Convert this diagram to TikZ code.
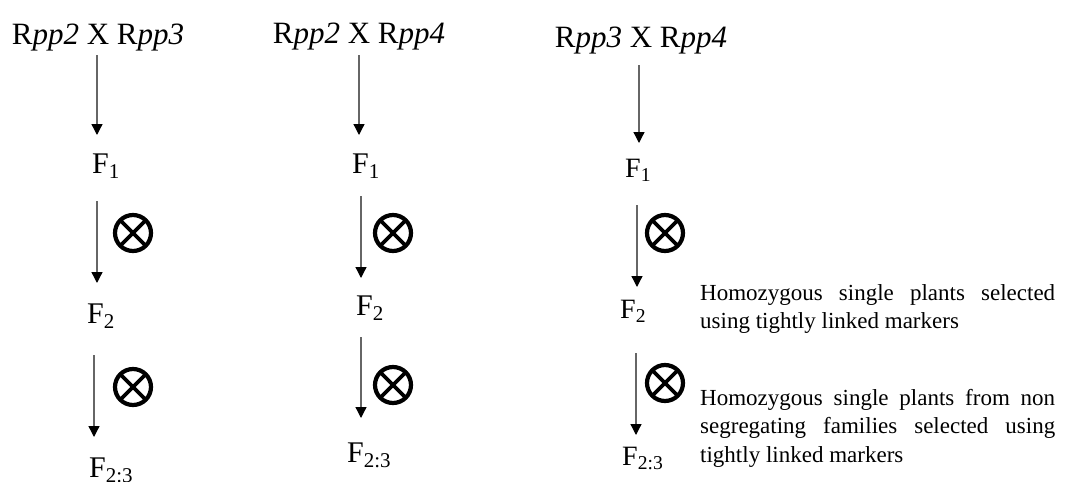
\documentclass[tikz,border=0pt]{standalone}
\usepackage{fontspec}
\setmainfont{Liberation Serif}
\usetikzlibrary{arrows.meta}
\tikzset{
  cross/.style={anchor=base, inner sep=0pt, font=\fontsize{31}{36}\selectfont},
  gen/.style={anchor=base west, inner sep=0pt, font=\fontsize{30}{36}\selectfont},
  genc/.style={anchor=base west, inner sep=0pt, font=\fontsize{28}{34}\selectfont},
  flow/.style={draw=black!60, line width=1.3pt, -{Triangle[width=11pt,length=11pt,black]}},
  note/.style={anchor=base west, inner sep=0pt, font=\fontsize{23}{28.5}\selectfont},
  selfing/.style={circle, draw=black, line width=4.2pt, minimum size=36pt, inner sep=0pt,
    path picture={\draw[line width=3.6pt] (path picture bounding box.north west) -- (path picture bounding box.south east)
      (path picture bounding box.north east) -- (path picture bounding box.south west);}}
}
\begin{document}
\begin{tikzpicture}[x=1pt,y=-1pt]
\useasboundingbox (0,0) rectangle (1069,482);
% column 1
\node[cross] (t1) at (98,44) {R\textit{pp2} X R\textit{pp3}};
\node[gen] (f11) at (92,173) {F\textsubscript{1}};
\node[gen] (f12) at (87,323) {F\textsubscript{2}};
\node[gen] (f13) at (89,477) {F\textsubscript{2:3}};
\node[selfing] (s11) at (133,233) {};
\node[selfing] (s12) at (133,387) {};
\coordinate (a1s) at (97,55);  \coordinate (a1e) at (97,135);
\coordinate (a2s) at (97,201); \coordinate (a2e) at (97,283);
\coordinate (a3s) at (94,355); \coordinate (a3e) at (94,437);
\draw[flow] (a1s) -- (a1e);
\draw[flow] (a2s) -- (a2e);
\draw[flow] (a3s) -- (a3e);
% column 2
\node[cross] (t2) at (359,43) {R\textit{pp2} X R\textit{pp4}};
\node[gen] (f21) at (352,173) {F\textsubscript{1}};
\node[gen] (f22) at (356,315) {F\textsubscript{2}};
\node[gen] (f23) at (347,462) {F\textsubscript{2:3}};
\node[selfing] (s21) at (393,233) {};
\node[selfing] (s22) at (393,385) {};
\coordinate (b1s) at (359,55);  \coordinate (b1e) at (359,135);
\coordinate (b2s) at (361,196); \coordinate (b2e) at (361,278);
\coordinate (b3s) at (361,337); \coordinate (b3e) at (361,418);
\draw[flow] (b1s) -- (b1e);
\draw[flow] (b2s) -- (b2e);
\draw[flow] (b3s) -- (b3e);
% column 3
\node[cross] (t3) at (641,47) {R\textit{pp3} X R\textit{pp4}};
\node[genc] (f31) at (625,177) {F\textsubscript{1}};
\node[genc] (f32) at (620,318) {F\textsubscript{2}};
\node[genc] (f33) at (622,465) {F\textsubscript{2:3}};
\node[selfing] (s31) at (665,233) {};
\node[selfing] (s32) at (665,383) {};
\coordinate (c1s) at (639,65);  \coordinate (c1e) at (639,143);
\coordinate (c2s) at (637,205); \coordinate (c2e) at (637,287);
\coordinate (c3s) at (636,353); \coordinate (c3e) at (636,435);
\draw[flow] (c1s) -- (c1e);
\draw[flow] (c2s) -- (c2e);
\draw[flow] (c3s) -- (c3e);
% notes
\node[note] (n1) at (700,300) {\parbox[t]{355pt}{\hyphenpenalty=10000\sloppy Homozygous single plants selected using tightly linked markers}};
\node[note] (n2) at (700,405) {\parbox[t]{355pt}{\hyphenpenalty=10000\sloppy Homozygous single plants from non segregating families selected using tightly linked markers}};
\end{tikzpicture}
\end{document}
